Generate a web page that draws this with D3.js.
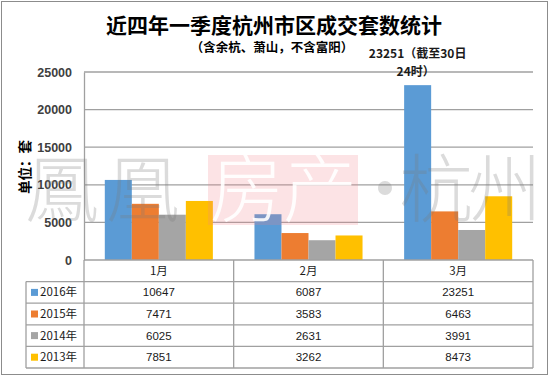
<!DOCTYPE html>
<html>
<head>
<meta charset="utf-8">
<script src="https://cdn.jsdelivr.net/npm/d3@7"></script>
<style>
  body { margin: 0; background: #fff; }
  svg { display: block; }
</style>
</head>
<body>
<div id="chart"></div>
<script>
// data
const months = ["1月", "2月", "3月"];
const years = ["2016年", "2015年", "2014年", "2013年"];
const v2016 = [10647, 6087, 23251];
const v2015 = [7471, 3583, 6463];
const v2014 = [6025, 2631, 3991];
const v2013 = [7851, 3262, 8473];
const yTicks = [0, 5000, 10000, 15000, 20000, 25000];
const colors = ["#5b9bd5", "#ed7d31", "#a5a5a5", "#ffc000"];

const values = [v2016, v2015, v2014, v2013];
const cjk = "'Noto Sans CJK SC', sans-serif";
const num = "'Liberation Sans', Arial, sans-serif";

const W = 550, H = 377;
const plot = {left: 84, right: 533, top: 72, bottom: 260};
const tableLeft = 26, rowH = 21.6;

const svg = d3.select("#chart").append("svg")
  .attr("width", W).attr("height", H);

// outer frame
svg.append("rect")
  .attr("x", 1.5).attr("y", 1.5)
  .attr("width", W - 4).attr("height", H - 4)
  .attr("fill", "#fff")
  .attr("stroke", "#8c8c8c");

const x0 = d3.scaleBand().domain(months).range([plot.left, plot.right]);
const x1 = d3.scaleBand().domain(years).range([0, x0.bandwidth()]).paddingOuter(0.77);
const y = d3.scaleLinear().domain([0, 25000]).range([plot.bottom, plot.top]);

// gridlines
svg.append("g")
  .selectAll("line")
  .data(yTicks.filter(d => d > 0))
  .join("line")
    .attr("x1", plot.left).attr("x2", plot.right)
    .attr("y1", d => y(d)).attr("y2", d => y(d))
    .attr("stroke", "#a0a0a0")
    .attr("stroke-width", 1.3);

// y axis
const yAxis = d3.axisLeft(y).tickValues(yTicks).tickFormat(d3.format("d")).tickSize(0).tickPadding(12);
svg.append("g")
    .attr("transform", `translate(${plot.left},0)`)
    .call(yAxis)
    .call(g => g.select(".domain").attr("stroke", "#a0a0a0").attr("stroke-width", 1.3))
    .call(g => g.selectAll(".tick text")
      .attr("font-family", num)
      .attr("font-size", "12.5px")
      .attr("font-weight", "bold")
      .attr("fill", "#404040"));

svg.append("text")
  .attr("transform", "translate(30,167) rotate(-90)")
  .attr("text-anchor", "middle")
  .attr("font-family", cjk)
  .attr("font-size", "13.5px")
  .attr("font-weight", "bold")
  .attr("fill", "#000")
  .text("单位：套");

// bars
const bars = [];
years.forEach((yr, i) => months.forEach((m, j) => bars.push({yr, m, v: values[i][j], c: colors[i]})));
svg.append("g")
  .selectAll("rect")
  .data(bars)
  .join("rect")
    .attr("x", d => x0(d.m) + x1(d.yr))
    .attr("y", d => y(d.v))
    .attr("width", x1.bandwidth())
    .attr("height", d => y(0) - y(d.v))
    .attr("fill", d => d.c);

// watermark on top of the bars
const wm = svg.append("g")
  .attr("font-family", cjk)
  .attr("font-size", "74px")
  .attr("font-weight", 200)
  .attr("text-anchor", "middle");
wm.append("rect")
  .attr("x", 208).attr("y", 155).attr("width", 150).attr("height", 70)
  .attr("fill", "#f08088").attr("opacity", 0.22);
const wmGray = [["鳳", 62], ["凰", 143], ["·", 385], ["杭", 436], ["州", 505]];
const wmWhite = [["房", 247], ["产", 320]];
wm.selectAll("text.g")
  .data(wmGray)
  .join("text")
    .attr("class", "g")
    .attr("x", d => d[1]).attr("y", 216)
    .attr("fill", "#7a7a7a").attr("fill-opacity", 0.27)
    .text(d => d[0]);
wm.selectAll("text.w")
  .data(wmWhite)
  .join("text")
    .attr("class", "w")
    .attr("x", d => d[1]).attr("y", 216)
    .attr("fill", "#fff").attr("fill-opacity", 0.9)
    .text(d => d[0]);

// annotation on the March 2016 bar
const ax = x0("3月") + x1("2016年") + x1.bandwidth() / 2;
const note = svg.append("text")
  .attr("text-anchor", "middle")
  .attr("font-family", cjk)
  .attr("font-size", "12px")
  .attr("font-weight", "bold")
  .attr("fill", "#1a1a1a");
note.append("tspan").attr("x", ax).attr("y", 58).text("23251（截至30日");
note.append("tspan").attr("x", ax - 2).attr("y", 76).text("24时）");

// titles
svg.append("text")
  .attr("x", 274).attr("y", 33)
  .attr("text-anchor", "middle")
  .attr("font-family", cjk)
  .attr("font-size", "21px")
  .attr("font-weight", "bold")
  .attr("fill", "#000")
  .text("近四年一季度杭州市区成交套数统计");
svg.append("text")
  .attr("x", 272).attr("y", 52)
  .attr("text-anchor", "middle")
  .attr("font-family", cjk)
  .attr("font-size", "12.5px")
  .attr("font-weight", "bold")
  .attr("fill", "#000")
  .text("（含余杭、萧山，不含富阳）");

// data table
const tbl = svg.append("g");
const rowY = d3.range(6).map(i => plot.bottom + i * rowH);
tbl.selectAll("line.h")
  .data(rowY)
  .join("line")
    .attr("class", "h")
    .attr("x1", (d, i) => i === 0 ? plot.left : tableLeft)
    .attr("x2", plot.right)
    .attr("y1", d => d).attr("y2", d => d)
    .attr("stroke", "#a0a0a0").attr("stroke-width", 1.3);
const colX = [plot.left, ...months.map(m => x0(m) + x0.bandwidth())];
tbl.selectAll("line.v")
  .data(colX)
  .join("line")
    .attr("class", "v")
    .attr("x1", d => d).attr("x2", d => d)
    .attr("y1", plot.bottom).attr("y2", rowY[5])
    .attr("stroke", "#a0a0a0").attr("stroke-width", 1.3);
tbl.append("line")
  .attr("x1", tableLeft).attr("x2", tableLeft)
  .attr("y1", rowY[1]).attr("y2", rowY[5])
  .attr("stroke", "#a0a0a0").attr("stroke-width", 1.3);

tbl.selectAll("text.m")
  .data(months)
  .join("text")
    .attr("class", "m")
    .attr("x", d => x0(d) + x0.bandwidth() / 2)
    .attr("y", rowY[0] + rowH / 2)
    .attr("dy", "0.35em")
    .attr("text-anchor", "middle")
    .attr("font-family", cjk)
    .attr("font-size", "11.5px")
    .attr("fill", "#1a1a1a")
    .text(d => d);

years.forEach((yr, i) => {
  const cy = rowY[i + 1] + rowH / 2;
  tbl.append("rect")
    .attr("x", 31).attr("y", cy - 3.5)
    .attr("width", 7).attr("height", 7)
    .attr("fill", colors[i]);
  tbl.append("text")
    .attr("x", 40).attr("y", cy).attr("dy", "0.35em")
    .attr("font-family", cjk)
    .attr("font-size", "11.5px")
    .attr("fill", "#1a1a1a")
    .text(yr);
  tbl.selectAll(null)
    .data(values[i])
    .join("text")
      .attr("x", (d, j) => x0(months[j]) + x0.bandwidth() / 2)
      .attr("y", cy).attr("dy", "0.35em")
      .attr("text-anchor", "middle")
      .attr("font-family", num)
      .attr("font-size", "11.5px")
      .attr("fill", "#1a1a1a")
      .text(d => d);
});
</script>
</body>
</html>
